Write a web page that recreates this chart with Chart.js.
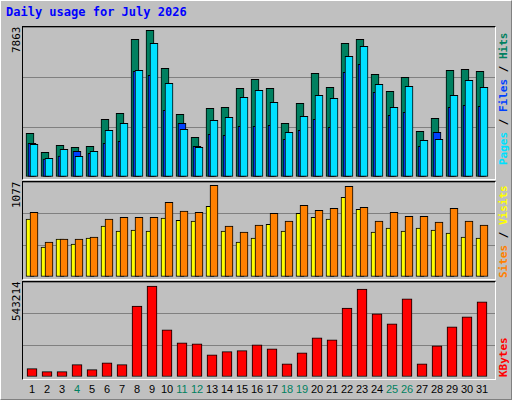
<!DOCTYPE html>
<html><head><meta charset="utf-8">
<script src="https://cdn.jsdelivr.net/npm/chart.js@4/dist/chart.umd.min.js"></script>
<style>
body{margin:0;background:#fff}
#wrap{position:absolute;left:0;top:0;width:510px;height:398px;background:#C0C0C0;border-top:1px solid #fff;border-left:1px solid #fff;border-right:1px solid #808080;border-bottom:1px solid #808080}
.panel{position:absolute;left:21px;width:472px;border-top:1px solid #000;border-left:1px solid #000;border-right:1px solid #fff;border-bottom:1px solid #fff}
canvas{position:absolute}
.t{position:absolute;font-family:'DejaVu Sans Mono',monospace;white-space:nowrap}
.rot{transform:rotate(-90deg);transform-origin:left top}
</style></head><body>
<div id="wrap"></div>
<script>
const days=[1,2,3,4,5,6,7,8,9,10,11,12,13,14,15,16,17,18,19,20,21,22,23,24,25,26,27,28,29,30,31];
const weekend=[4,11,12,18,19,25,26];
const hits=[2341,1322,1698,1590,1644,3092,3413,7380,7863,5826,3360,2127,3681,3735,4753,5236,4753,2877,3949,5557,4807,7166,7380,5504,4592,5343,2448,3145,5718,5772,5665];
const files=[1751,1001,1483,1108,1376,2502,2877,5718,7166,5021,2555,1590,3038,3199,4271,4646,4003,2394,3252,4378,4217,6469,7005,4968,3735,4861,1966,2019,4378,5182,4807];
const pages=[1805,965,1126,1376,1269,1805,1912,5665,5450,3574,2877,1644,2287,2234,2716,2716,2770,2019,2502,3092,2663,5611,6040,4539,3306,3467,1644,2394,3735,3842,3788];
const visits=[679,351,445,386,457,597,538,550,538,691,667,656,831,538,410,457,620,538,749,702,679,936,796,527,574,538,574,550,515,468,457];
const sites=[761,410,445,445,468,679,702,702,702,878,773,761,1077,597,527,609,749,656,843,784,808,1065,819,656,761,714,714,644,808,656,609];
const kbytes=[49600,31700,31700,73400,43600,85200,73400,424000,543214,281500,204000,198000,133000,151000,157000,192000,168500,79300,144700,234000,222000,412000,525000,377000,317000,466000,79300,186000,299000,359000,448000];
const maxHits=7863, maxSites=1077, maxKB=543214;

const wrap=document.getElementById('wrap');
function el(cls,txt,css){const d=document.createElement('div');d.className=cls;d.textContent=txt;Object.assign(d.style,css);wrap.appendChild(d);return d;}
el('t','Daily usage for July 2026',{left:'5px',top:'4px',fontSize:'12px',fontWeight:'bold',color:'#0000FF'});

const X0=0.4, X1=0.4+472/15, off=2/15;
function panel(top,h,max,datasets){
  const p=document.createElement('div');p.className='panel';p.style.top=(top-1)+'px';p.style.height=(h+2)+'px';wrap.appendChild(p);
  const c=document.createElement('canvas');c.width=472;c.height=h;c.style.left='22px';c.style.top=top+'px';c.style.width='472px';c.style.height=h+'px';wrap.appendChild(c);
  new Chart(c,{type:'bar',data:{datasets},options:{responsive:false,animation:false,devicePixelRatio:1,
    layout:{padding:0},plugins:{legend:{display:false},tooltip:{enabled:false}},
    datasets:{bar:{grouped:false,borderColor:'#000',borderWidth:1,borderSkipped:false}},
    scales:{x:{type:'linear',min:X0,max:X1,display:false,offset:false},
      y:{min:0,max:max,display:true,ticks:{display:false,stepSize:max/3},grid:{drawTicks:false,color:'#808080',lineWidth:1},border:{display:false}}}}});
}
const pts=(arr,o)=>days.map((d,i)=>({x:d+o,y:arr[i]}));
panel(26,150,8040,[
  {data:pts(hits,-off),backgroundColor:'#008060',barThickness:8,order:3},
  {data:pts(pages,0),backgroundColor:'#0040FF',barThickness:8,order:2},
  {data:pts(files,off),backgroundColor:'#00E0FF',barThickness:8,order:1}]);
panel(181,95,1116,[
  {data:pts(visits,-off),backgroundColor:'#FFFF00',barThickness:8,order:2},
  {data:pts(sites,off),backgroundColor:'#FF8000',barThickness:8,order:1}]);
panel(281,95,567000,[
  {data:pts(kbytes,0),backgroundColor:'#FF0000',barThickness:10,order:1}]);

el('t rot',String(maxHits),{left:'9px',top:'52px',fontSize:'11px',color:'#000'});
el('t rot',String(maxSites),{left:'9px',top:'207px',fontSize:'11px',color:'#000'});
el('t rot',String(maxKB),{left:'9px',top:'320px',fontSize:'11px',color:'#000'});
function rlab(top,parts){const d=el('t rot','',{left:'496px',top:top+'px',fontSize:'11px',fontWeight:'bold'});
  parts.forEach(([s,col])=>{const sp=document.createElement('span');sp.textContent=s;sp.style.color=col;d.appendChild(sp);});}
rlab(164,[['Pages','#00E0FF'],[' / ','#000'],['Files','#0040FF'],[' / ','#000'],['Hits','#008060']]);
rlab(277,[['Sites','#FF8000'],[' / ','#000'],['Visits','#FFFF00']]);
rlab(376,[['KBytes','#FF0000']]);
days.forEach(d=>{el('t',String(d),{left:(16+15*d-10)+'px',width:'20px',textAlign:'center',top:'382px',fontSize:'11px',fontFamily:'Liberation Sans, sans-serif',color:weekend.includes(d)?'#00805F':'#000'});});
</script></body></html>
